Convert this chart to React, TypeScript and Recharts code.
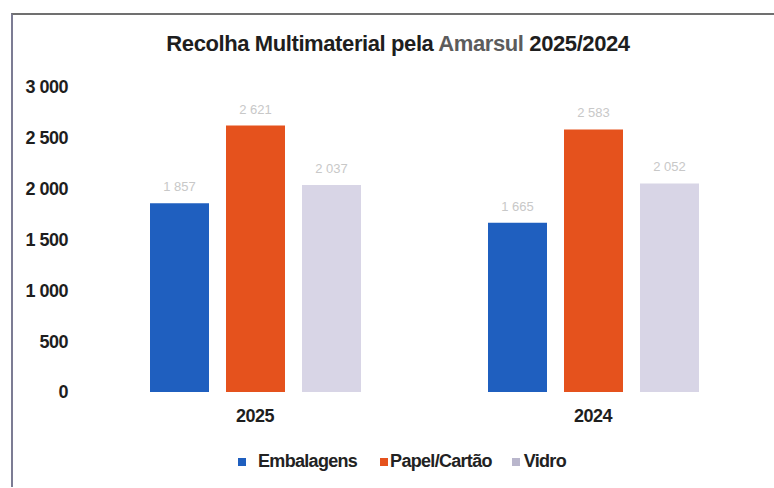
import { BarChart, Bar, XAxis, YAxis, Legend, LabelList } from "recharts";

const years = ["2025", "2024"];
const embalagens = [1857, 1665];
const papelCartao = [2621, 2583];
const vidro = [2037, 2052];
const yTicks = [0, 500, 1000, 1500, 2000, 2500, 3000];

const chartData = years.map((year, i) => ({
    year,
    embalagens: embalagens[i],
    papel: papelCartao[i],
    vidro: vidro[i]
}));

const fmt = (v: number) => {
    const s = String(v);
    return s.length > 3 ? s.slice(0, s.length - 3) + " " + s.slice(-3) : s;
};

const legendItems = [
    { label: "Embalagens", color: "#1f5fbf", gap: 12, before: 0 },
    { label: "Papel/Cartão", color: "#e5521d", gap: 2, before: 23 },
    { label: "Vidro", color: "#b9b6cc", gap: 4, before: 20 }
];

function ChartLegend() {
    return (
        <div style={{ display: "flex", justifyContent: "center", alignItems: "center",
            paddingLeft: 30, fontFamily: "'Liberation Sans', Arial, sans-serif", fontWeight: 700,
            fontSize: 18, color: "#222", letterSpacing: -0.7 }}>
            {legendItems.map(item => (
                <div key={item.label} style={{ display: "flex", alignItems: "center", marginLeft: item.before }}>
                    <span style={{ width: 8, height: 8, background: item.color, marginRight: item.gap,
                        display: "inline-block" }} />
                    <span>{item.label}</span>
                </div>
            ))}
        </div>
    );
}

export default function App() {
    const tickStyle = { fontFamily: "'Liberation Sans', Arial, sans-serif", fontWeight: 700,
        fontSize: 18, fill: "#1e1e1e", letterSpacing: -0.5 };
    const labelStyle = { fontFamily: "'Liberation Sans', Arial, sans-serif", fontSize: 13, fill: "#c8c8c8" };
    return (
        <div style={{ position: "absolute", left: 0, top: 0, width: 774, height: 488, background: "#fff" }}>
            <div style={{ position: "absolute", left: 11, top: 13, width: 800, height: 472,
                borderTop: "2px solid #707070", borderLeft: "2px solid #7c7c94" }} />
            <div style={{ position: "absolute", left: 0, width: 796, top: 31, textAlign: "center",
                fontFamily: "'Liberation Sans', Arial, sans-serif", fontWeight: 700, fontSize: 22,
                color: "#1e1e1e", letterSpacing: -0.4 }}>
                Recolha Multimaterial pela <span style={{ color: "#5c5c5c" }}>Amarsul</span> 2025/2024
            </div>
            <BarChart width={774} height={488} data={chartData} barSize={59} barGap={17}
                margin={{ top: 87, right: 12, bottom: 0, left: 16 }}>
                <XAxis dataKey="year" axisLine={false} tickLine={false} tick={tickStyle} tickMargin={11} />
                <YAxis domain={[0, 3000]} ticks={yTicks} axisLine={false} tickLine={false} width={70}
                    tick={tickStyle} tickMargin={12} tickFormatter={fmt} />
                <Legend verticalAlign="bottom" height={66} content={() => <ChartLegend />}
                    wrapperStyle={{ top: 451, bottom: "auto", left: 0, width: 774 }} />
                <Bar dataKey="embalagens" name="Embalagens" fill="#1f5fbf" isAnimationActive={false}>
                    <LabelList dataKey="embalagens" position="top" offset={12} formatter={fmt} style={labelStyle} />
                </Bar>
                <Bar dataKey="papel" name="Papel/Cartão" fill="#e5521d" isAnimationActive={false}>
                    <LabelList dataKey="papel" position="top" offset={12} formatter={fmt} style={labelStyle} />
                </Bar>
                <Bar dataKey="vidro" name="Vidro" fill="#d8d5e6" isAnimationActive={false}>
                    <LabelList dataKey="vidro" position="top" offset={12} formatter={fmt} style={labelStyle} />
                </Bar>
            </BarChart>
        </div>
    );
}
